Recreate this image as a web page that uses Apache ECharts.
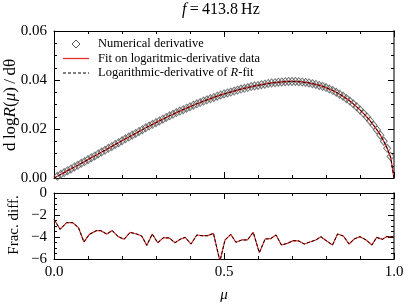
<!DOCTYPE html>
<html>
<head>
<meta charset="utf-8">
<script src="https://cdn.jsdelivr.net/npm/echarts@6/dist/echarts.min.js"></script>
<style>html,body{margin:0;padding:0;background:#fff;}#c{width:415px;height:305px;}</style>
</head>
<body>
<div id="c"></div>
<script>
// mu grid step for the derivative curve (0 .. 1 in steps of 0.01)
var derivStep = 0.01;
// d logR(mu)/d theta, read at mu = 0.00, 0.01, ..., 1.00
var fitCurve = [
0.0000,0.0007,0.0015,0.0022,0.0030,0.0037,0.0045,0.0052,0.0060,0.0067,
0.0075,0.0083,0.0090,0.0098,0.0106,0.0113,0.0121,0.0129,0.0137,0.0144,
0.0152,0.0160,0.0167,0.0175,0.0182,0.0190,0.0197,0.0205,0.0212,0.0219,
0.0226,0.0233,0.0240,0.0247,0.0254,0.0260,0.0267,0.0273,0.0279,0.0285,
0.0291,0.0297,0.0303,0.0308,0.0314,0.0319,0.0324,0.0329,0.0334,0.0339,
0.0343,0.0347,0.0351,0.0355,0.0359,0.0363,0.0366,0.0369,0.0373,0.0376,
0.0378,0.0381,0.0383,0.0386,0.0388,0.0389,0.0391,0.0392,0.0393,0.0394,
0.0394,0.0394,0.0393,0.0392,0.0390,0.0388,0.0385,0.0382,0.0378,0.0374,
0.0369,0.0363,0.0357,0.0350,0.0342,0.0334,0.0324,0.0314,0.0303,0.0291,
0.0278,0.0264,0.0249,0.0233,0.0215,0.0196,0.0175,0.0150,0.0121,0.0085,
0.0000];
// numerical derivative, at mu = 0.01 ... 0.99
var numericalDeriv = [
0.0007,0.0015,0.0022,0.0030,0.0037,0.0045,0.0052,0.0060,0.0067,
0.0075,0.0083,0.0090,0.0098,0.0106,0.0113,0.0121,0.0129,0.0137,0.0144,
0.0152,0.0160,0.0167,0.0175,0.0182,0.0190,0.0197,0.0205,0.0212,0.0219,
0.0226,0.0233,0.0240,0.0247,0.0254,0.0260,0.0267,0.0273,0.0279,0.0285,
0.0291,0.0297,0.0303,0.0308,0.0314,0.0319,0.0324,0.0329,0.0334,0.0339,
0.0343,0.0347,0.0351,0.0355,0.0359,0.0363,0.0366,0.0369,0.0373,0.0376,
0.0378,0.0381,0.0383,0.0386,0.0388,0.0389,0.0391,0.0392,0.0393,0.0394,
0.0394,0.0394,0.0393,0.0392,0.0390,0.0388,0.0385,0.0382,0.0378,0.0374,
0.0369,0.0363,0.0357,0.0350,0.0342,0.0334,0.0324,0.0314,0.0303,0.0291,
0.0278,0.0264,0.0249,0.0233,0.0215,0.0196,0.0175,0.0150,0.0121,0.0088];
// fractional difference (log10), mu positions and values
var fracMu = [0.000,0.018,0.037,0.055,0.072,0.088,0.104,0.125,0.137,0.155,
0.171,0.189,0.206,0.224,0.243,0.258,0.273,0.289,0.305,0.322,
0.339,0.356,0.371,0.386,0.403,0.420,0.434,0.452,0.469,0.488,
0.503,0.520,0.535,0.552,0.569,0.586,0.604,0.621,0.637,0.653,
0.669,0.686,0.704,0.720,0.736,0.753,0.770,0.785,0.802,0.819,
0.834,0.851,0.868,0.883,0.900,0.918,0.935,0.949,0.966,0.978,0.998];
var fracDiff = [-2.39,-3.30,-2.70,-2.70,-3.15,-4.45,-3.76,-3.42,-3.42,-3.73,
-3.42,-3.97,-4.21,-3.58,-3.73,-3.91,-4.76,-3.73,-4.52,-4.06,
-4.09,-4.52,-4.21,-4.03,-4.64,-3.82,-3.88,-3.88,-3.67,-6.20,
-4.27,-3.76,-4.48,-4.27,-4.27,-3.58,-5.42,-4.18,-4.15,-3.82,
-4.73,-4.58,-4.33,-4.36,-4.64,-4.45,-4.27,-3.97,-4.36,-4.73,
-3.73,-3.91,-4.64,-4.18,-3.97,-4.27,-4.73,-4.03,-4.21,-3.97,-3.97];
var titleText = '{i|f}{n|\u2009=\u2009413.8\u2009Hz}';
var legendNames = ['Numerical derivative','Fit on logaritmic-derivative data','Logarithmic-derivative of R-fit'];
var yNameTop = '{n|d\u2009log}{i|R}{n|(}{i|μ}{n|)\u2009/\u2009dθ}';
var yNameBottom = 'Frac. diff.';
// [min, max, major interval, minor interval]
var xTicks = [0, 1, 0.5, 0.1];
var yTicksTop = [0, 0.06, 0.02, 0.005];
var yTicksBottom = [-6, 0, 2, 0.5];

var FONT = 'Liberation Serif';
var RED = '#e8302a';
function pairs(xs, ys){ return ys.map(function(v,i){ return [xs[i], v]; }); }
var fitPairs = fitCurve.map(function(v,i){ return [+(i*derivStep).toFixed(2), v]; });
var numPairs = numericalDeriv.map(function(v,i){ return [+((i+1)*derivStep).toFixed(2), v]; });
var fracPairs = pairs(fracMu, fracDiff);

function axisBase(type, grid, pos, t, minor, showLine, lineColor, lineWidth){
  return {
    type:'value', gridIndex:grid, position:pos, min:t[0], max:t[1], interval: minor ? t[3] : t[2],
    axisLine:{show:showLine, onZero:false, lineStyle:{color:lineColor||'#000', width:lineWidth||1}},
    axisTick:{show:true, inside:true, length: minor ? 3 : 6, lineStyle:{color:'#000', width:1}},
    splitLine:{show:false},
    axisLabel:{show:false}
  };
}
function xAxes(grid, labels, name){
  var b = axisBase('x', grid, 'bottom', xTicks, false, true);
  if (labels) {
    b.axisLabel = {show:true, color:'#000', fontFamily:FONT, fontSize:15, margin:6,
      formatter:function(v){ return v.toFixed(1); }};
    b.name = name; b.nameLocation = 'middle'; b.nameGap = 29;
    b.nameTextStyle = {fontFamily:FONT, fontSize:15, fontStyle:'italic', color:'#000'};
  }
  return [b,
    axisBase('x', grid, 'top', xTicks, false, true),
    axisBase('x', grid, 'bottom', xTicks, true, false),
    axisBase('x', grid, 'top', xTicks, true, false)];
}
function yAxes(grid, t, fmt){
  var l = axisBase('y', grid, 'left', t, false, true);
  l.axisLabel = {show:true, color:'#000', fontFamily:FONT, fontSize:15, margin:7, formatter:fmt};
  return [l,
    axisBase('y', grid, 'right', t, false, true, '#7a7a7a', 2),
    axisBase('y', grid, 'left', t, true, false),
    axisBase('y', grid, 'right', t, true, false)];
}

// legend and rotated axis titles, drawn as graphic elements
var LX = 63, LY = 44, LDY = 14.5;
var legendGraphic = [
  {type:'polygon', shape:{points:[[LX+13,LY-4],[LX+17,LY],[LX+13,LY+4],[LX+9,LY]]},
   style:{fill:'none', stroke:'#555', lineWidth:1}},
  {type:'line', shape:{x1:LX, y1:LY+LDY, x2:LX+26, y2:LY+LDY}, style:{stroke:RED, lineWidth:1.3}},
  {type:'line', shape:{x1:LX, y1:LY+2*LDY, x2:LX+26, y2:LY+2*LDY}, style:{stroke:'#000', lineWidth:1, lineDash:[3,2]}},
  {type:'text', x:LX+35, y:LY, style:{text:legendNames[0], fontFamily:FONT, fontSize:12.5, fill:'#000', verticalAlign:'middle'}},
  {type:'text', x:LX+35, y:LY+LDY, style:{text:legendNames[1], fontFamily:FONT, fontSize:12.5, fill:'#000', verticalAlign:'middle'}},
  {type:'text', x:LX+35, y:LY+2*LDY, style:{text:'{n|Logarithmic-derivative of }{i|R}{n|-fit}', verticalAlign:'middle',
    rich:{n:{fontFamily:FONT,fontSize:12.5,fill:'#000'}, i:{fontFamily:FONT,fontSize:12.5,fontStyle:'italic',fill:'#000'}}}},
  {type:'text', x:11, y:105, rotation:Math.PI/2,
   style:{text:yNameTop, align:'center', verticalAlign:'middle',
     rich:{n:{fontFamily:FONT,fontSize:17,fill:'#000'}, i:{fontFamily:FONT,fontSize:17,fontStyle:'italic',fill:'#000'}}}},
  {type:'text', x:14, y:225, rotation:Math.PI/2,
   style:{text:yNameBottom, align:'center', verticalAlign:'middle', fontFamily:FONT, fontSize:15, fill:'#000'}}
];

var chart = echarts.init(document.getElementById('c'), null, {renderer:'canvas'});
chart.setOption({
  animation:false,
  backgroundColor:'#fff',
  title:{
    text:titleText, left:182, top:2, padding:0,
    textStyle:{fontFamily:FONT, fontSize:16, fontWeight:'normal', color:'#000',
      rich:{i:{fontFamily:FONT, fontSize:16, fontStyle:'italic', color:'#000'},
            n:{fontFamily:FONT, fontSize:16, color:'#000'}}}
  },
  graphic: legendGraphic,
  grid:[
    {left:54, top:31, width:340, height:147, outerBoundsMode:'none', containLabel:false},
    {left:54, top:193, width:340, height:66, outerBoundsMode:'none', containLabel:false}
  ],
  xAxis: xAxes(0, false).concat(xAxes(1, true, 'μ')),
  yAxis: yAxes(0, yTicksTop, function(v){return v.toFixed(2);})
    .concat(yAxes(1, yTicksBottom, function(v){return v<0?'\u2212'+Math.abs(v):String(v);})),
  series:[
    {name:legendNames[0], type:'scatter', xAxisIndex:0, yAxisIndex:0, data:numPairs,
     symbol:'diamond', symbolSize:[7,8], z:1,
     itemStyle:{color:'rgba(255,255,255,0)', borderColor:'#555', borderWidth:1}},
    {name:legendNames[1], type:'line', xAxisIndex:0, yAxisIndex:0, data:fitPairs,
     showSymbol:false, symbol:'none', z:2, lineStyle:{color:RED, width:1.3}},
    {name:legendNames[2], type:'line', xAxisIndex:0, yAxisIndex:0, data:fitPairs,
     showSymbol:false, symbol:'none', z:3, lineStyle:{color:'#000', width:1, type:[3,2]}},
    {type:'line', xAxisIndex:4, yAxisIndex:4, data:fracPairs,
     showSymbol:false, symbol:'none', z:2, lineStyle:{color:RED, width:1.2}},
    {type:'line', xAxisIndex:4, yAxisIndex:4, data:fracPairs,
     showSymbol:false, symbol:'none', z:3, lineStyle:{color:'#000', width:1, type:[3,2]}}
  ]
});
</script>
</body>
</html>
